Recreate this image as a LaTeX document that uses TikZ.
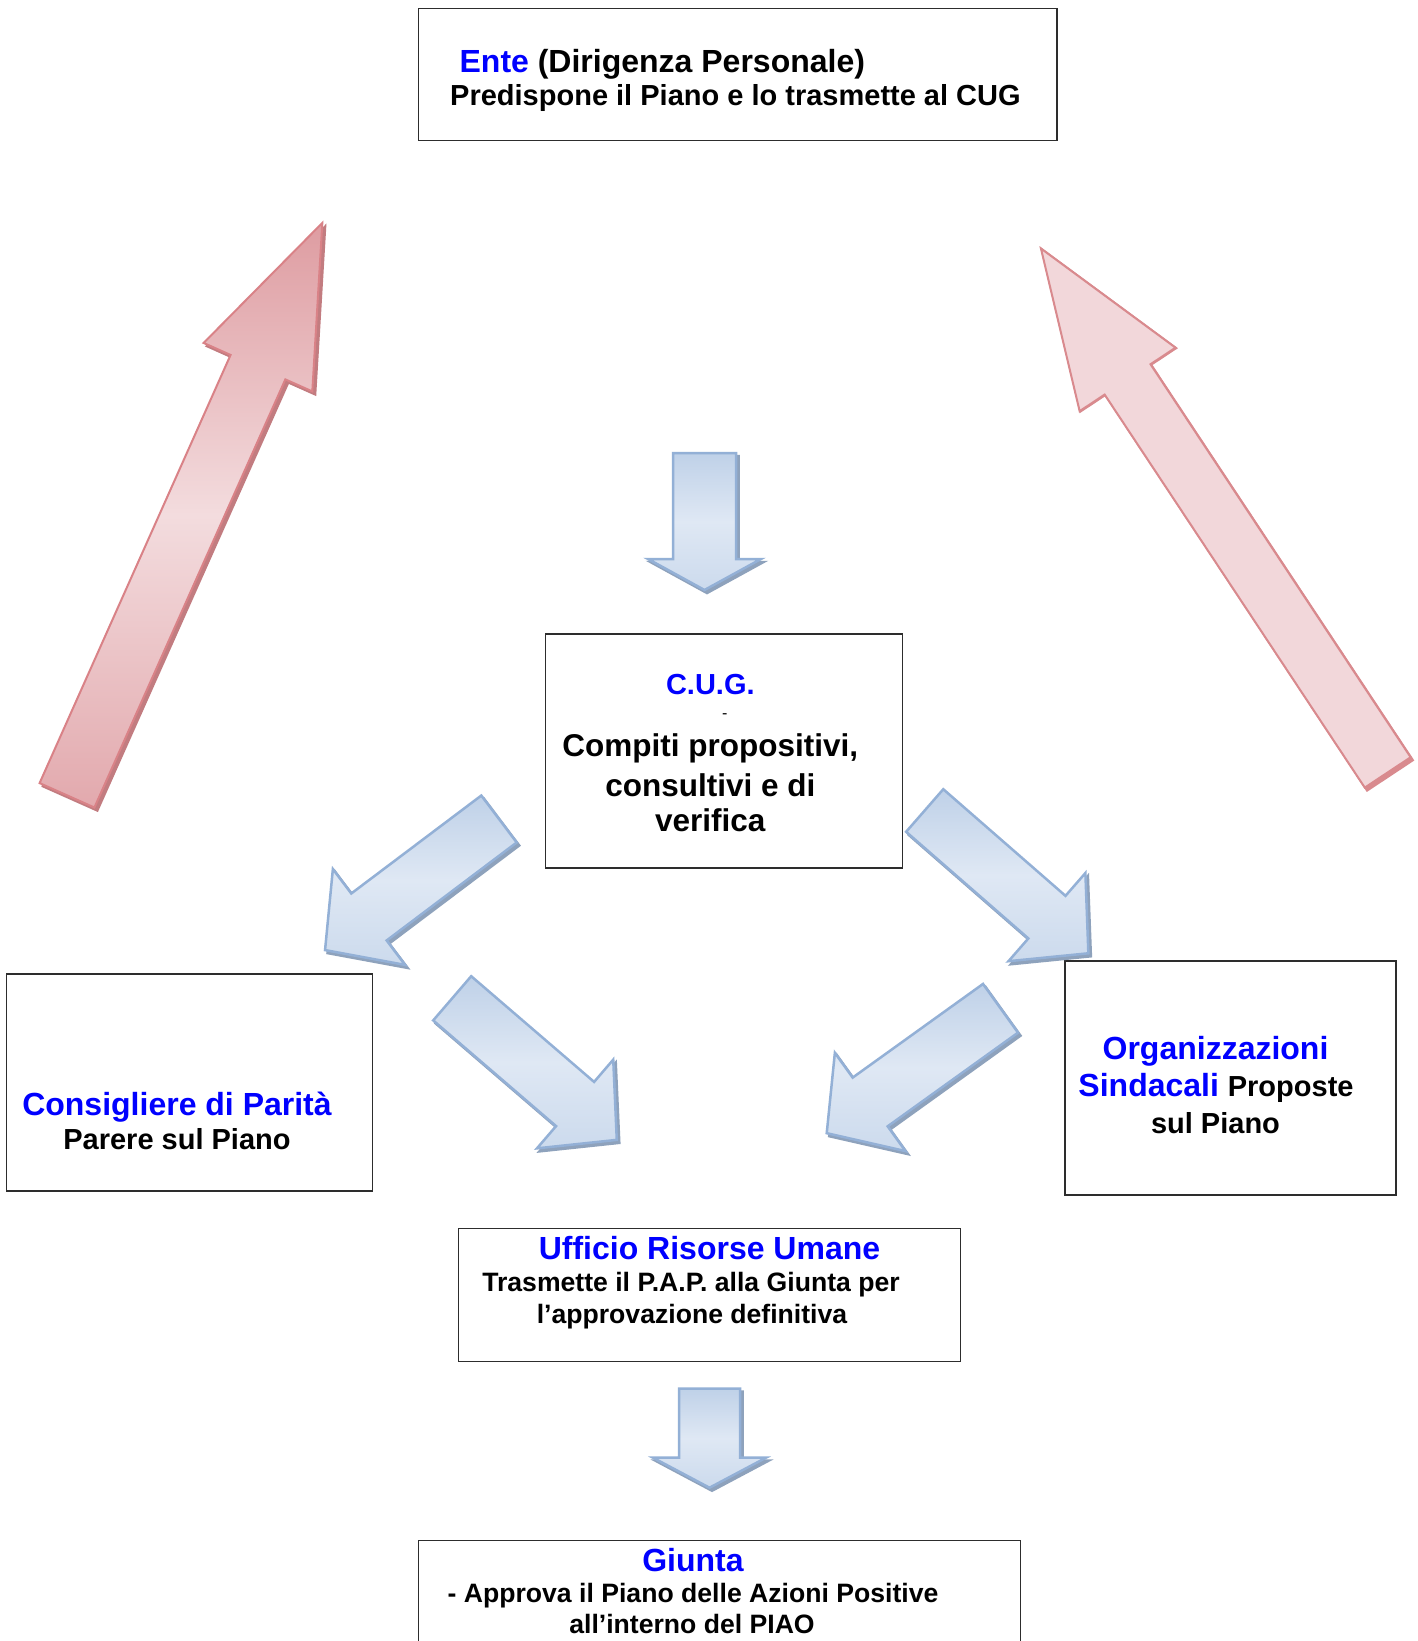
\documentclass[tikz,border=0pt]{standalone}
\usepackage{fontspec}
\setmainfont{Liberation Sans}
\usetikzlibrary{calc}
\definecolor{tblue}{RGB}{0,0,255}
\definecolor{boxline}{RGB}{45,45,45}
\definecolor{redEdge}{HTML}{D98287}
\definecolor{redDark}{HTML}{DE9CA1}
\definecolor{redLight}{HTML}{F3DCDE}
\definecolor{redShadow}{HTML}{C27C80}
\definecolor{pinkFill}{HTML}{F2D7DA}
\definecolor{pinkEdge}{HTML}{D98A8E}
\definecolor{blueEdge}{HTML}{93B0D6}
\definecolor{blueDark}{HTML}{BFD1E8}
\definecolor{blueLight}{HTML}{DFE8F4}
\definecolor{blueShadow}{HTML}{8EA2BC}
\newcommand{\arrowpoly}[4]{(0,{-(#2)/2}) -- ({(#1)-(#4)},{-(#2)/2}) -- ({(#1)-(#4)},{-(#3)/2}) -- (#1,0) -- ({(#1)-(#4)},{(#3)/2}) -- ({(#1)-(#4)},{(#2)/2}) -- (0,{(#2)/2}) -- cycle}
\tikzset{
  boxst/.style={draw=boxline, line width=1.4pt, inner sep=0pt},
  headt/.style={font=\fontsize{32}{38}\selectfont\bfseries, text=tblue, inner sep=0pt, anchor=base},
  bodyt/.style={font=\fontsize{29}{35}\selectfont\bfseries, text=black, inner sep=0pt, anchor=base},
  smallt/.style={font=\fontsize{26.6}{32}\selectfont\bfseries, text=black, inner sep=0pt, anchor=base},
  redarrow/.style={draw=redEdge, line width=2pt, line join=miter, top color=redDark, bottom color=redDark!80!redLight, middle color=redLight},
  pinkarrow/.style={draw=pinkEdge, line width=2pt, line join=miter, fill=pinkFill},
  bluearrow/.style={draw=blueEdge, line width=2.5pt, line join=miter, top color=blueDark, bottom color=blueDark!60!blueLight, middle color=blueLight},
  redshad/.style={fill=redShadow, draw=redShadow, line width=2pt},
  blueshad/.style={fill=blueShadow, draw=blueShadow, line width=2.5pt}
}
\begin{document}
\begin{tikzpicture}[x=1pt,y=-1pt]
\useasboundingbox (0,0) rectangle (1417,1641);
\fill[white] (0,0) rectangle (1417,1641);

% ---------- boxes ----------
\node[boxst, minimum width=638.4pt, minimum height=131.8pt] (ente) at (737.8,74.3) {};
\node[boxst, minimum width=357pt, minimum height=234pt] (cug) at (724,751) {};
\node[boxst, minimum width=366.2pt, minimum height=217pt] (cons) at (189.4,1082.5) {};
\node[boxst, minimum width=331pt, minimum height=234pt] (org) at (1230.5,1078) {};
\node[boxst, minimum width=502.3pt, minimum height=132.9pt] (uff) at (709.5,1295) {};
\node[boxst, minimum width=601.7pt, minimum height=240pt] (giu) at (719.5,1660.5) {};

% ---------- texts ----------
\node[headt, anchor=base west] (entet1) at (459.4,72) {Ente \textcolor{black}{(Dirigenza Personale)}};
\node[bodyt, anchor=base west] (entet2) at (450,105.6) {Predispone il Piano e lo trasmette al CUG};

\node[headt, font=\fontsize{29}{35}\selectfont\bfseries] (cugt1) at (710.3,694) {C.U.G.};
\node[inner sep=0pt, font=\fontsize{16}{18}\selectfont] (cugt2) at (724.7,716.5) {-};
\node[bodyt, font=\fontsize{31.5}{38}\selectfont\bfseries] (cugt3) at (710.3,756.7) {Compiti propositivi,};
\node[bodyt, font=\fontsize{31.5}{38}\selectfont\bfseries] (cugt4) at (710.3,796.7) {consultivi e di};
\node[bodyt, font=\fontsize{31.5}{38}\selectfont\bfseries] (cugt5) at (710.3,831.7) {verifica};

\node[headt] (const1) at (177,1115.5) {Consigliere di Parità};
\node[bodyt] (const2) at (177,1149) {Parere sul Piano};

\node[headt] (orgt1) at (1215.5,1059) {Organizzazioni};
\node[headt] (orgt2) at (1216,1096.5) {Sindacali \textcolor{black}{\fontsize{29}{35}\selectfont Proposte}};
\node[bodyt] (orgt3) at (1215.5,1133) {sul Piano};

\node[headt] (ufft1) at (709.5,1259) {Ufficio Risorse Umane};
\node[smallt] (ufft2) at (691,1291.6) {Trasmette il P.A.P. alla Giunta per};
\node[smallt] (ufft3) at (692,1323.6) {l’approvazione definitiva};

\node[headt] (giut1) at (693,1571.5) {Giunta};
\node[smallt] (giut2) at (693,1602.6) {- Approva il Piano delle Azioni Positive};
\node[smallt] (giut3) at (692,1633.6) {all’interno del PIAO};

% ---------- big red arrows ----------
\begin{scope}[shift={(70,798.5)},rotate=65.96]
  \filldraw[redshad] \arrowpoly{626.8}{60}{119}{158};
\end{scope}
\begin{scope}[shift={(67,795.3)},rotate=65.96]
  \path[redarrow] \arrowpoly{626.8}{60}{119}{158};
\end{scope}

\begin{scope}[shift={(1390,775.4)},rotate=123.5]
  \filldraw[redshad, fill=pinkEdge, draw=pinkEdge] \arrowpoly{631.3}{55}{115}{157};
\end{scope}
\begin{scope}[shift={(1387.7,772.4)},rotate=123.5]
  \path[pinkarrow] \arrowpoly{628.3}{55}{115}{157};
\end{scope}

% ---------- blue arrows ----------
\foreach \tx/\ty/\ang/\len/\sw/\hw/\hl in {
  704.5/453/-90/137/63/113/31,
  709.5/1388.7/-90/99/61/113/30,
  499/819/217/217.8/58.8/120/55,
  924.7/810.5/-41.1/217.2/56.5/117/55,
  452.2/998.3/-40.7/217.1/58.3/117/55,
  1000.5/1008.3/215.7/214/60/121/53.5}{
  \begin{scope}[shift={(\tx+2.5,\ty+3)},rotate=\ang]
    \filldraw[blueshad] \arrowpoly{\len}{\sw}{\hw}{\hl};
  \end{scope}
  \begin{scope}[shift={(\tx,\ty)},rotate=\ang]
    \path[bluearrow] \arrowpoly{\len}{\sw}{\hw}{\hl};
  \end{scope}
}
\end{tikzpicture}
\end{document}
